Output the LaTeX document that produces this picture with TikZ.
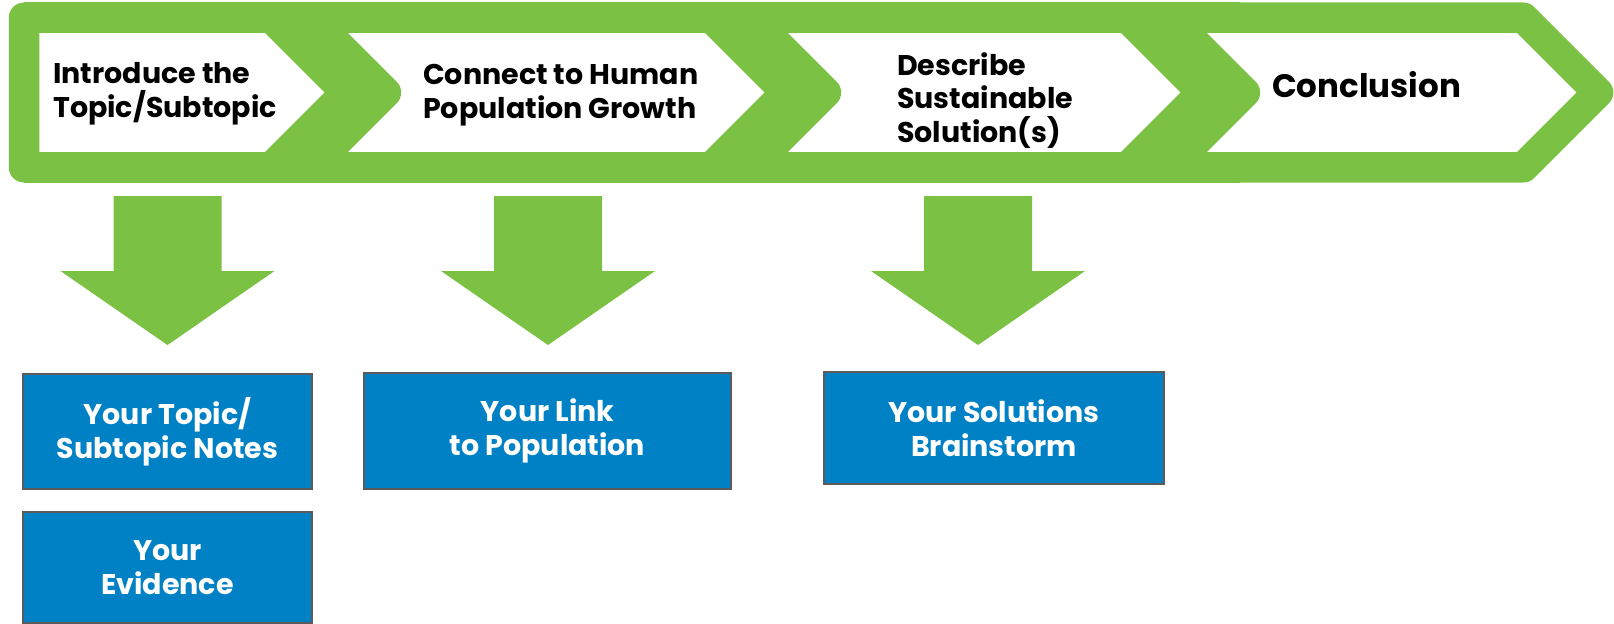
\documentclass[tikz,border=0pt]{standalone}
\usepackage{fontspec}
\setmainfont{Poppins}
\definecolor{gr}{HTML}{7BC143}
\definecolor{bl}{HTML}{0081C6}
\definecolor{bd}{HTML}{5B5B5B}
\begin{document}
\begin{tikzpicture}[x=1pt,y=-1pt,
  chev/.style={draw=gr, fill=white, line width=30.5pt, line join=round},
  darrow/.style={fill=gr},
  bbox/.style={fill=bl, draw=bd, line width=2pt, text=white, align=center,
    font=\bfseries\fontsize{28.5}{33.5}\selectfont},
  ttl/.style={font=\bfseries\fontsize{28.5}{33.5}\selectfont, text=black,
    inner sep=0pt, align=left, anchor=base west}]
\useasboundingbox (0,0) rectangle (1614,623.5);
% green band behind the chevrons
\fill[gr] (24,2.5) rectangle (1240,182.5);
% chevrons
\path[chev] (24,17.75) -- (271.4,17.75) -- (346.1,92.5) -- (271.4,167.25) -- (24,167.25) -- cycle;
\path[chev] (311.1,17.75) -- (711.4,17.75) -- (786.1,92.5) -- (711.4,167.25) -- (311.1,167.25) -- (385.9,92.5) -- cycle;
\path[chev] (751.1,17.75) -- (1127.4,17.75) -- (1202.1,92.5) -- (1127.4,167.25) -- (751.1,167.25) -- (825.9,92.5) -- cycle;
\path[chev] (1170.1,17.75) -- (1523.4,17.75) -- (1598.1,92.5) -- (1523.4,167.25) -- (1170.1,167.25) -- (1244.9,92.5) -- cycle;
% chevron texts (anchored at the baseline of the last line)
\node[ttl] (t1) at (53,117) {Introduce the\\Topic/Subtopic};
\node[ttl] (t2) at (423,118) {Connect to Human\\Population Growth};
\node[ttl] (t3) at (897,142) {Describe\\Sustainable\\Solution(s)};
\node[ttl, font=\bfseries\fontsize{32.5}{36}\selectfont] (t4) at (1272,97) {Conclusion};
% down arrows
\foreach \cx in {167.5,548,978}{
  \fill[darrow] (\cx-54,196) -- (\cx+54,196) -- (\cx+54,271) -- (\cx+107,271) -- (\cx,345)
    -- (\cx-107,271) -- (\cx-54,271) -- cycle;
}
% blue boxes
\node[bbox, minimum width=289pt, minimum height=115pt] (b1) at (167.5,431.5) {Your Topic/\\Subtopic Notes};
\node[bbox, minimum width=289pt, minimum height=111pt] (b1b) at (167.5,567.5) {Your\\Evidence};
\node[bbox, minimum width=367pt, minimum height=116pt] (b2) at (547.5,431) {Your Link\\to Population};
\node[bbox, minimum width=340pt, minimum height=112pt] (b3) at (994,428) {Your Solutions\\Brainstorm};
\end{tikzpicture}
\end{document}
